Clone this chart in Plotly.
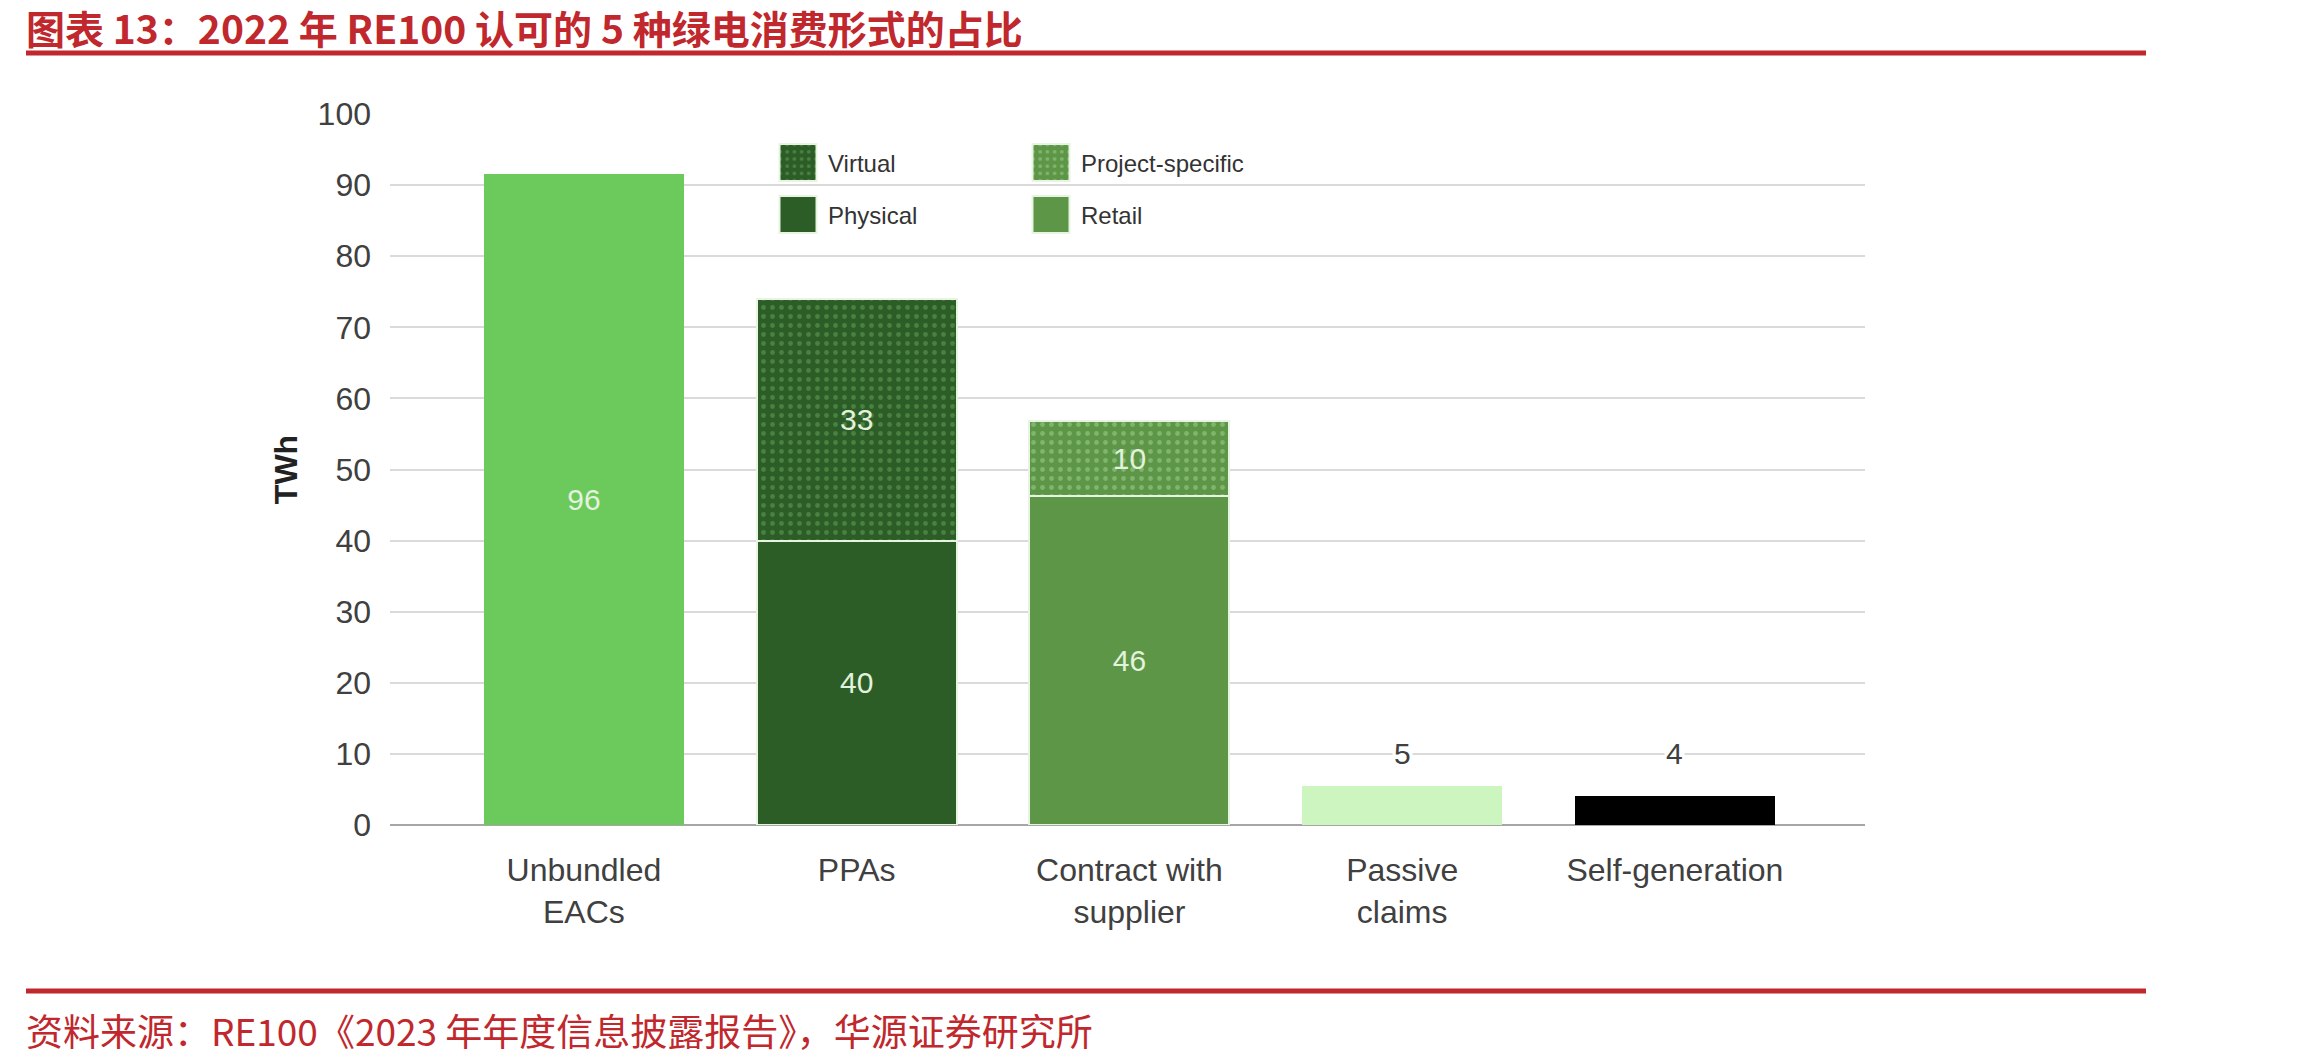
import plotly.graph_objects as go

# ---------------- data ----------------
categories = ["Unbundled<br>EACs", "PPAs", "Contract with<br>supplier", "Passive<br>claims", "Self-generation"]

eac_vals = [91.5]          # Unbundled EACs (bar height as drawn)
physical_vals = [40.0]     # PPAs - Physical
virtual_vals = [34.0]      # PPAs - Virtual
retail_vals = [46.3]       # Contract with supplier - Retail
project_vals = [10.5]      # Contract with supplier - Project-specific
passive_vals = [5.5]       # Passive claims
selfgen_vals = [4.1]       # Self-generation

eac_labels = ["96"]
physical_labels = ["40"]
virtual_labels = ["33"]
retail_labels = ["46"]
project_labels = ["10"]
passive_labels = ["5"]
selfgen_labels = ["4"]

y_tick_vals = list(range(0, 101, 10))

title_text = "图表 13：2022 年 RE100 认可的 5 种绿电消费形式的占比"
source_text = "资料来源：RE100《2023 年年度信息披露报告》，华源证券研究所"

# ---------------- styles ----------------
W, H = 2302, 1064
ML, MR, MT, MB = 390, 437, 114, 239
PW, PH = W - ML - MR, H - MT - MB
RED = "#c0282d"
TXT = "#404040"
LATIN = "Liberation Sans, Arial, sans-serif"
CJK = "Noto Sans CJK SC, sans-serif"
INNER_TXT = "#e2f2dc"
SEP = "#e6f4e1"


def px_x(px):
    return (px - ML) / PW


def px_y(py):
    return (H - MB - py) / PH


fig = go.Figure()

fig.add_trace(go.Bar(
    x=[categories[0]], y=eac_vals, text=eac_labels, name="Unbundled EACs",
    marker=dict(color="#6cc95c", line=dict(color=SEP, width=0)),
    showlegend=False))

fig.add_trace(go.Bar(
    x=[categories[1]], y=physical_vals, text=physical_labels, name="Physical",
    marker=dict(color="#2d5d27", line=dict(color=SEP, width=2)),
    legend="legend2"))

fig.add_trace(go.Bar(
    x=[categories[1]], y=virtual_vals, text=virtual_labels, name="Virtual",
    marker=dict(color="#2d5d27", line=dict(color=SEP, width=2),
                pattern=dict(shape=".", fgcolor="#64a55a", bgcolor="#2d5d27",
                             size=9, solidity=0.22, fillmode="overlay")),
    legend="legend"))

fig.add_trace(go.Bar(
    x=[categories[2]], y=retail_vals, text=retail_labels, name="Retail",
    marker=dict(color="#5d9647", line=dict(color=SEP, width=2)),
    legend="legend2"))

fig.add_trace(go.Bar(
    x=[categories[2]], y=project_vals, text=project_labels, name="Project-specific",
    marker=dict(color="#5d9647", line=dict(color=SEP, width=2),
                pattern=dict(shape=".", fgcolor="#a3d394", bgcolor="#5d9647",
                             size=9, solidity=0.22, fillmode="overlay")),
    legend="legend"))

fig.add_trace(go.Bar(
    x=[categories[3]], y=passive_vals, name="Passive claims",
    marker=dict(color="#ccf5c0", line=dict(width=0)), showlegend=False))

fig.add_trace(go.Bar(
    x=[categories[4]], y=selfgen_vals, name="Self-generation",
    marker=dict(color="#000000", line=dict(width=0)), showlegend=False))

fig.update_traces(textposition="inside", insidetextanchor="middle",
                  textfont=dict(family=LATIN, size=30, color=INNER_TXT),
                  constraintext="none", hoverinfo="skip")

# labels above the two small bars
small_top = max(passive_vals[0], selfgen_vals[0])
for cat, lab in [(categories[3], passive_labels[0]), (categories[4], selfgen_labels[0])]:
    fig.add_annotation(x=cat, y=small_top, text=lab, showarrow=False,
                       yanchor="bottom", yshift=14, bgcolor="white",
                       font=dict(family=LATIN, size=30, color=TXT))

# title, source, red rules
fig.add_annotation(xref="paper", yref="paper", x=px_x(24), y=px_y(27),
                   xanchor="left", yanchor="middle", showarrow=False,
                   text="<b>" + title_text + "</b>",
                   font=dict(family=CJK, size=39, color=RED))
fig.add_annotation(xref="paper", yref="paper", x=px_x(24), y=px_y(1030),
                   xanchor="left", yanchor="middle", showarrow=False,
                   text=source_text,
                   font=dict(family=CJK, size=37, color=RED))
for ly in (53, 991):
    fig.add_shape(type="line", xref="paper", yref="paper",
                  x0=px_x(26), x1=px_x(2146), y0=px_y(ly), y1=px_y(ly),
                  line=dict(color=RED, width=5))

legend_common = dict(orientation="h", xref="paper", yref="paper",
                     xanchor="left", yanchor="middle", bgcolor="rgba(0,0,0,0)",
                     font=dict(family=LATIN, size=24, color="#333333"),
                     entrywidth=188, entrywidthmode="pixels", itemwidth=50,
                     traceorder="normal", itemclick=False, itemdoubleclick=False)

fig.update_layout(
    width=W, height=H,
    margin=dict(l=ML, r=MR, t=MT, b=MB, pad=0, autoexpand=False),
    paper_bgcolor="white", plot_bgcolor="white",
    barmode="stack", bargap=0.267,
    font=dict(family=LATIN, color=TXT),
    xaxis=dict(type="category", range=[-0.711, 4.697], showgrid=False,
               showline=False, ticks="", zeroline=False, automargin=False,
               tickfont=dict(family=LATIN, size=32, color=TXT),
               ticklabelstandoff=23),
    yaxis=dict(range=[0, 100], tickvals=y_tick_vals, showgrid=True,
               gridcolor="#dadada", gridwidth=2, zeroline=True,
               zerolinecolor="#a6a6a6", zerolinewidth=2, showline=False,
               ticks="", tickfont=dict(family=LATIN, size=32, color=TXT),
               ticklabelstandoff=18, automargin=False,
               title=dict(text="<b>TWh</b>", standoff=10,
                          font=dict(family=LATIN, size=32, color="#222222"))),
    legend=dict(legend_common, x=px_x(768), y=px_y(163)),
    legend2=dict(legend_common, x=px_x(768), y=px_y(215)),
    showlegend=True,
)

post = """
(function(){
  var gd = document.getElementById('{plot_id}');
  function fix(){
    var ps = gd.querySelectorAll('.legendpoints path');
    ps.forEach(function(p){ p.setAttribute('d','M18.5,18.5H-18.5V-18.5H18.5Z'); });
  }
  fix();
  if (gd && gd.on) { gd.on('plotly_afterplot', fix); }
  setTimeout(fix, 30); setTimeout(fix, 200); setTimeout(fix, 800);
})();
"""

fig.write_html("out.html", post_script=post, config={"displayModeBar": False})
